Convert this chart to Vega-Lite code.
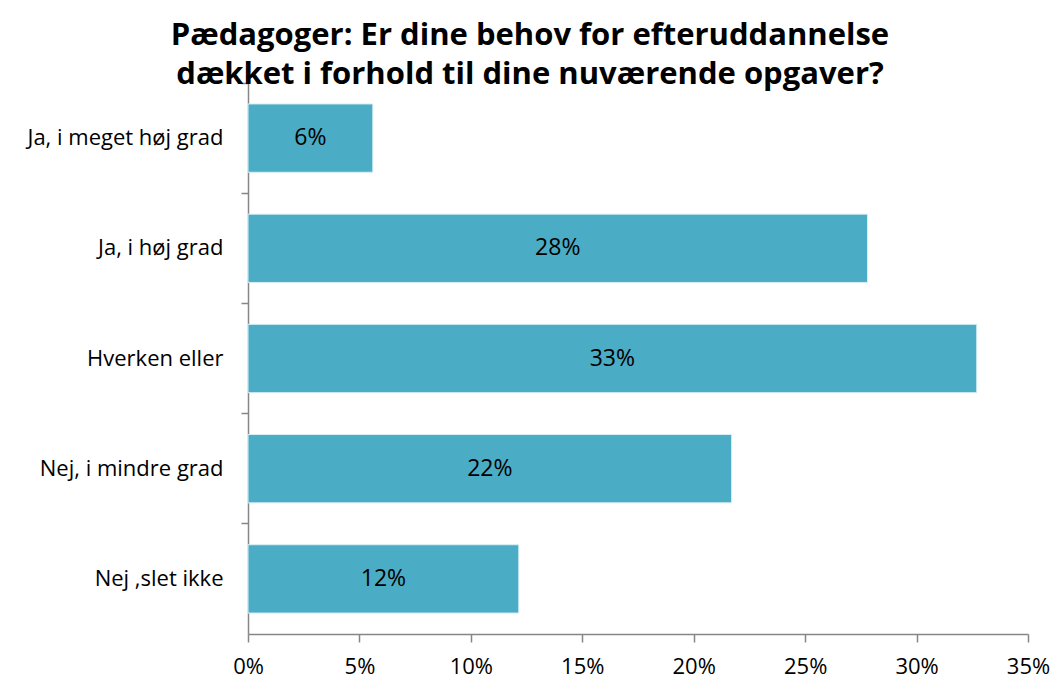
{
  "$schema": "https://vega.github.io/schema/vega-lite/v6.json",
  "autosize": {"type": "none"},
  "width": 780,
  "height": 551,
  "padding": {"left": 248, "top": 83, "right": 27, "bottom": 50},
  "background": "white",
  "title": {
    "text": ["Pædagoger: Er dine behov for efteruddannelse", "dækket i forhold til dine nuværende opgaver?"],
    "font": "Open Sans",
    "fontSize": 31,
    "fontWeight": "bold",
    "color": "black",
    "anchor": "middle",
    "dx": -108,
    "lineHeight": 39,
    "offset": -9
  },
  "data": {
    "values": [
      {"svar": "Ja, i meget høj grad", "andel": 0.056},
      {"svar": "Ja, i høj grad", "andel": 0.278},
      {"svar": "Hverken eller", "andel": 0.327},
      {"svar": "Nej, i mindre grad", "andel": 0.217},
      {"svar": "Nej ,slet ikke", "andel": 0.1215}
    ]
  },
  "encoding": {
    "y": {
      "field": "svar",
      "type": "nominal",
      "sort": null,
      "scale": {"paddingInner": 0, "paddingOuter": 0},
      "axis": {
        "title": null,
        "bandPosition": 0,
        "domainColor": "#868686",
        "domainWidth": 1.5,
        "tickColor": "#868686",
        "tickWidth": 1.5,
        "tickSize": 7,
        "labelFont": "Open Sans",
        "labelFontSize": 22,
        "labelColor": "black",
        "labelPadding": 18,
        "labelLimit": 300
      }
    },
    "x": {
      "field": "andel",
      "type": "quantitative",
      "scale": {"domain": [0, 0.35], "nice": false},
      "axis": {
        "title": null,
        "format": ".0%",
        "values": [0, 0.05, 0.1, 0.15, 0.2, 0.25, 0.3, 0.35],
        "grid": false,
        "domainColor": "#868686",
        "domainWidth": 1.5,
        "tickColor": "#868686",
        "tickWidth": 1.5,
        "tickSize": 8,
        "labelFont": "Open Sans",
        "labelFontSize": 22,
        "labelColor": "black",
        "labelPadding": 14,
        "labelFlush": false
      }
    }
  },
  "layer": [
    {
      "mark": {"type": "bar", "height": {"band": 0.62}, "color": "#4BACC6", "stroke": "#d8eef4", "strokeWidth": 1}
    },
    {
      "transform": [{"calculate": "datum.andel / 2", "as": "midte"}],
      "mark": {"type": "text", "font": "Open Sans", "fontSize": 23, "color": "black"},
      "encoding": {
        "x": {"field": "midte", "type": "quantitative"},
        "text": {"field": "andel", "type": "quantitative", "format": ".0%"}
      }
    }
  ],
  "config": {"view": {"stroke": null}}
}
